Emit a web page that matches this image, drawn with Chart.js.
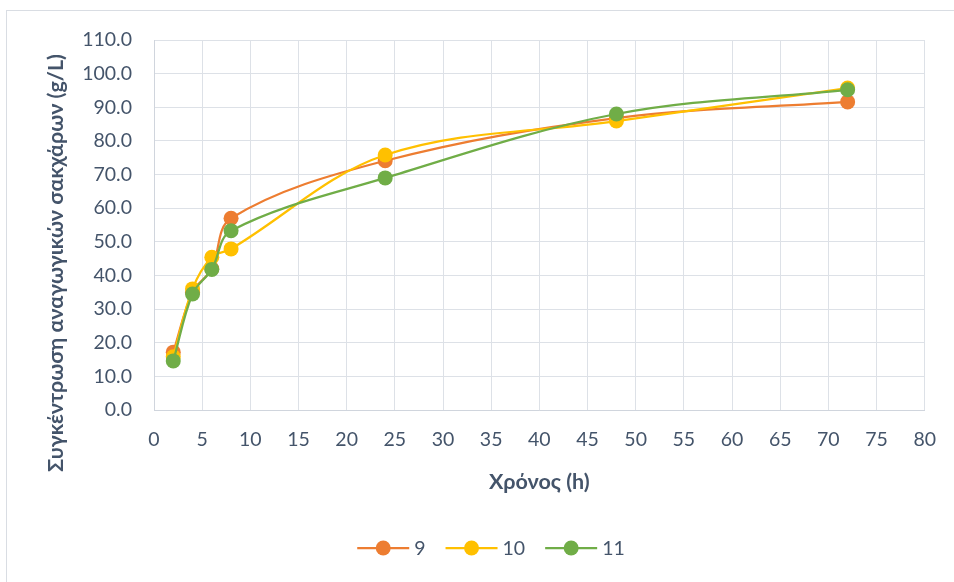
<!DOCTYPE html>
<html>
<head>
<meta charset="utf-8">
<script src="https://cdn.jsdelivr.net/npm/chart.js@4.4.1/dist/chart.umd.min.js"></script>
<style>
  html, body { margin: 0; padding: 0; background: #ffffff; }
  #wrap { position: relative; width: 954px; height: 582px; overflow: hidden; }
  #frame { position: absolute; left: 6px; top: 10px; width: 1000px; height: 700px;
           border-top: 1px solid #D9DDE3; border-left: 1px solid #D9DDE3; }
  canvas { position: absolute; left: 0; top: 0; }
</style>
</head>
<body>
<div id="wrap">
  <div id="frame"></div>
  <canvas id="chart" width="954" height="582"></canvas>
</div>
<script>
// Sampling times (h)
const hours = [2, 4, 6, 8, 24, 48, 72];

// Reducing sugar concentration (g/L) per run
const run9  = [17.2, 35.0, 42.0, 57.0, 74.1, 86.8, 91.6];
const run10 = [15.8, 36.0, 45.4, 47.9, 75.8, 85.9, 95.7];
const run11 = [14.6, 34.5, 41.8, 53.3, 69.0, 88.0, 95.2];

const seriesNames = ['9', '10', '11'];
const seriesColors = ['#ED7D31', '#FFC000', '#70AD47'];

const yTicks = [0, 10, 20, 30, 40, 50, 60, 70, 80, 90, 100, 110];
const xTicks = [0, 5, 10, 15, 20, 25, 30, 35, 40, 45, 50, 55, 60, 65, 70, 75, 80];

const yTitle = 'Συγκέντρωση αναγωγικών σακχάρων (g/L)';
const xTitle = 'Χρόνος (h)';

const TEXT = '#44546A';
const FONT = 'Lato, "Open Sans", sans-serif';

function pairs(values) {
  return hours.map((h, i) => ({ x: h, y: values[i] }));
}

const datasets = [run9, run10, run11].map((vals, i) => ({
  label: seriesNames[i],
  data: pairs(vals),
  borderColor: seriesColors[i],
  backgroundColor: seriesColors[i],
  pointBackgroundColor: seriesColors[i],
  pointBorderColor: seriesColors[i],
  pointRadius: 7.5,
  pointBorderWidth: 0,
  pointHoverRadius: 7.5,
  borderWidth: 2.25,
  tension: 0.35,
  showLine: true,
  order: 3 - i
}));

// Axis titles and a line+marker legend, drawn in canvas text
const decorations = {
  id: 'decorations',
  afterDraw(chart) {
    const ctx = chart.ctx;
    ctx.save();
    ctx.fillStyle = TEXT;
    ctx.textAlign = 'center';
    ctx.textBaseline = 'middle';
    ctx.font = 'bold 21.5px ' + FONT;

    // y title
    ctx.save();
    ctx.translate(56, 263);
    ctx.rotate(-Math.PI / 2);
    ctx.fillText(yTitle, 0, 0);
    ctx.restore();

    // x title
    const a = chart.chartArea;
    ctx.fillText(xTitle, (a.left + a.right) / 2, 482);

    // legend
    ctx.font = '19.5px ' + FONT;
    ctx.textAlign = 'left';
    const lineW = 52, gapText = 5, gapItem = 20, cy = 548;
    const widths = chart.data.datasets.map(d => lineW + gapText + ctx.measureText(d.label).width);
    const total = widths.reduce((s, w) => s + w, 0) + gapItem * (widths.length - 1);
    let x = 491 - total / 2;
    chart.data.datasets.forEach((d, i) => {
      ctx.strokeStyle = d.borderColor;
      ctx.lineWidth = 2.25;
      ctx.beginPath();
      ctx.moveTo(x, cy);
      ctx.lineTo(x + lineW, cy);
      ctx.stroke();
      ctx.fillStyle = d.borderColor;
      ctx.beginPath();
      ctx.arc(x + lineW / 2, cy, 7.5, 0, Math.PI * 2);
      ctx.fill();
      ctx.fillStyle = TEXT;
      ctx.fillText(d.label, x + lineW + gapText, cy + 1);
      x += widths[i] + gapItem;
    });
    ctx.restore();
  }
};

new Chart(document.getElementById('chart'), {
  type: 'scatter',
  data: { datasets },
  options: {
    responsive: false,
    animation: false,
    layout: { padding: { top: 40, right: 29, bottom: 0, left: 0 } },
    plugins: {
      legend: { display: false },
      tooltip: { enabled: false }
    },
    scales: {
      x: {
        type: 'linear',
        min: 0,
        max: 80,
        afterFit(scale) { scale.height = 172; },
        afterBuildTicks(scale) { scale.ticks = xTicks.map(v => ({ value: v })); },
        ticks: {
          padding: 18,
          color: TEXT,
          font: { family: FONT, size: 19.5 },
          maxRotation: 0,
          autoSkip: false
        },
        grid: { color: '#DDE1E7', lineWidth: 1, drawTicks: false },
        border: { color: '#D0D5DD', width: 1 }
      },
      y: {
        type: 'linear',
        min: 0,
        max: 110,
        afterFit(scale) { scale.width = 154; },
        afterBuildTicks(scale) { scale.ticks = yTicks.map(v => ({ value: v })); },
        ticks: {
          padding: 22,
          color: TEXT,
          font: { family: FONT, size: 19.5 },
          callback: v => Number(v).toFixed(1),
          autoSkip: false
        },
        grid: { color: '#DDE1E7', lineWidth: 1, drawTicks: false },
        border: { color: '#D0D5DD', width: 1 }
      }
    }
  },
  plugins: [decorations]
});
</script>
</body>
</html>
